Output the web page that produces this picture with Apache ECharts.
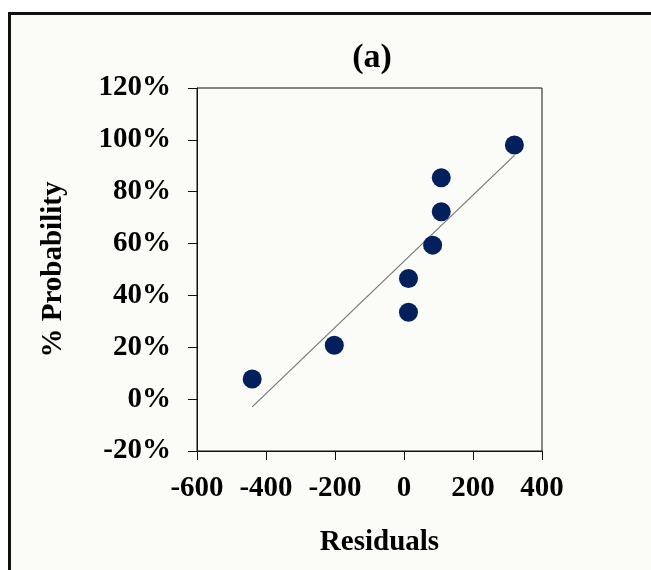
<!DOCTYPE html>
<html>
<head>
<meta charset="utf-8">
<script src="https://cdn.jsdelivr.net/npm/echarts@6/dist/echarts.min.js"></script>
<style>
html,body{margin:0;padding:0;background:#ffffff;}
#chart{width:651px;height:570px;}
</style>
</head>
<body>
<div id="chart"></div>
<script>
var residuals = [-440, -202, 13, 13, 83, 108, 108, 320];
var probability = [7.8, 20.8, 33.5, 46.5, 59.4, 72.3, 85.4, 98];
var trendX = [-440, 320];
var trendY = [-3, 94];
var xTicks = [-600, -400, -200, 0, 200, 400];
var yTicks = [-20, 0, 20, 40, 60, 80, 100, 120];
var titleText = '(a)';
var xName = 'Residuals';
var yName = '% Probability';

var font = 'Liberation Serif';
var chart = echarts.init(document.getElementById('chart'), null, {renderer: 'canvas'});
var option = {
  animation: false,
  backgroundColor: '#ffffff',
  graphic: [{
    type: 'rect', z: -10, silent: true,
    shape: {x: 9.5, y: 13.5, width: 700, height: 600},
    style: {fill: '#fbfbf7', stroke: '#111111', lineWidth: 3}
  }],
  title: {
    text: titleText, left: 367, top: 36, textAlign: 'center',
    textStyle: {fontFamily: font, fontWeight: 'bold', fontSize: 34, color: '#000'}
  },
  grid: {left: 197, top: 88, width: 345, height: 363, show: true, borderColor: '#111', borderWidth: 1, backgroundColor: 'transparent'},
  xAxis: {
    type: 'value', min: xTicks[0], max: xTicks[xTicks.length - 1], interval: 200,
    name: xName, nameLocation: 'middle', nameGap: 77,
    nameTextStyle: {fontFamily: font, fontWeight: 'bold', fontSize: 29, color: '#000', padding: [0, 0, 0, 20]},
    axisLine: {show: true, onZero: false, lineStyle: {color: '#111', width: 1}},
    axisTick: {show: true, inside: false, length: 9, lineStyle: {color: '#111'}},
    axisLabel: {margin: 23, fontFamily: font, fontWeight: 'bold', fontSize: 29, color: '#000'},
    splitLine: {show: false}
  },
  yAxis: {
    type: 'value', min: yTicks[0], max: yTicks[yTicks.length - 1], interval: 20,
    name: yName, nameLocation: 'middle', nameGap: 129, nameRotate: 90,
    nameTextStyle: {fontFamily: font, fontWeight: 'bold', fontSize: 29, color: '#000'},
    axisLine: {show: true, onZero: false, lineStyle: {color: '#111', width: 1}},
    axisTick: {show: true, inside: false, length: 9, lineStyle: {color: '#111'}},
    axisLabel: {margin: 26, fontFamily: font, fontWeight: 'bold', fontSize: 29, color: '#000', formatter: '{value}%'},
    splitLine: {show: false}
  },
  series: [{
    type: 'line',
    data: trendX.map(function (x, i) { return [x, trendY[i]]; }),
    showSymbol: false, symbol: 'none',
    lineStyle: {color: '#777777', width: 1.2},
    z: 1
  }, {
    type: 'scatter',
    data: residuals.map(function (x, i) { return [x, probability[i]]; }),
    symbol: 'circle', symbolSize: 19,
    itemStyle: {color: '#02205c', opacity: 1},
    z: 2
  }]
};
chart.setOption(option);
</script>
</body>
</html>
